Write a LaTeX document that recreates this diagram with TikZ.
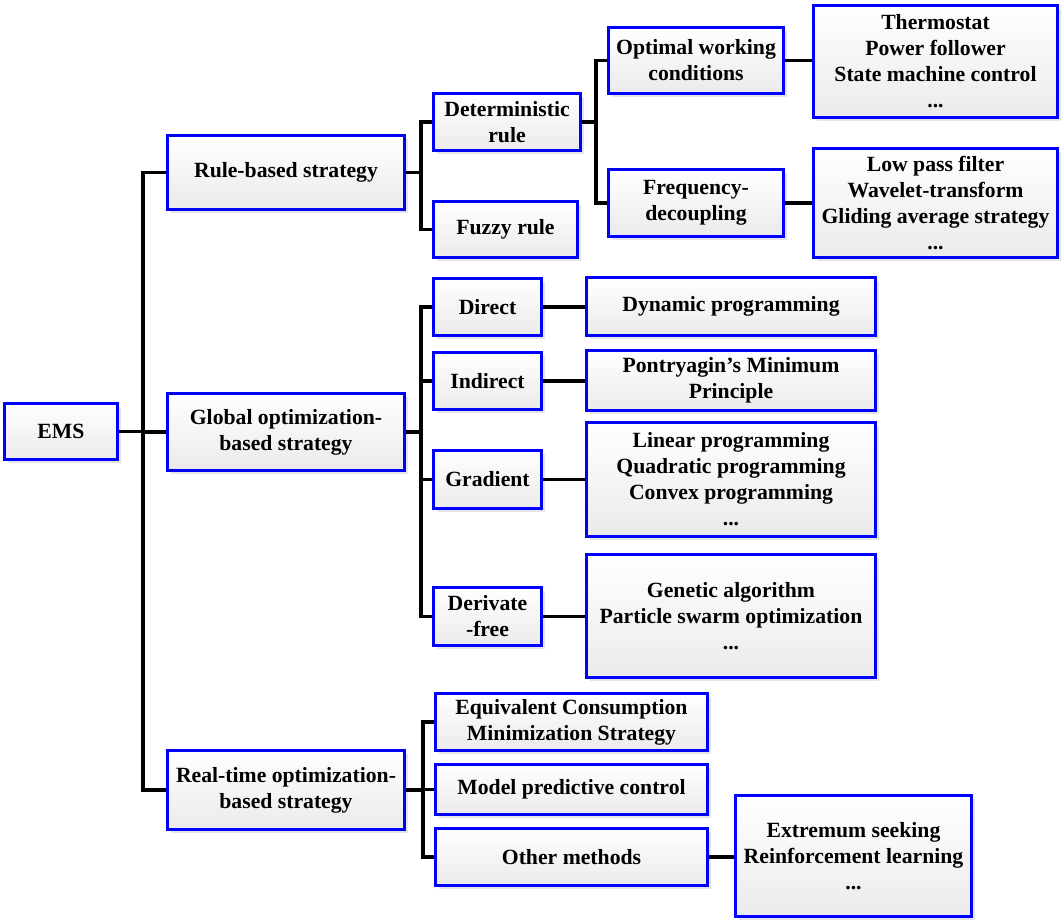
\documentclass[tikz,border=0pt]{standalone}
\usepackage{fontspec}
\setmainfont{Liberation Serif}
\usetikzlibrary{shadows}
\begin{document}
\begin{tikzpicture}[x=1pt,y=1pt,
  box/.style={draw=blue, line width=3pt, rectangle, top color=white, bottom color=black!8,
    align=center, inner sep=0pt, font=\fontsize{21.7}{26}\selectfont\bfseries,
    drop shadow={shadow xshift=3.5pt, shadow yshift=-3.5pt, fill=black!10, opacity=1}},
  link/.style={line width=3.2pt, black}]
\useasboundingbox (0,0) rectangle (1061,-920);

% root and first level
\node[box, minimum width=113pt, minimum height=56pt] (ems) at (61,-431.5) {EMS};
\node[box, minimum width=237pt, minimum height=74pt] (rule) at (286,-172.5) {Rule-based strategy};
\node[box, minimum width=237pt, minimum height=77pt] (glob) at (286,-432) {Global optimization-\\based strategy};
\node[box, minimum width=237pt, minimum height=79pt] (real) at (286,-790) {Real-time optimization-\\based strategy};

% rule-based branch
\node[box, minimum width=147pt, minimum height=57pt] (det) at (507,-122) {Deterministic\\rule};
\node[box, minimum width=144pt, minimum height=56pt] (fuzzy) at (505.5,-229.5) {Fuzzy rule};
\node[box, minimum width=175pt, minimum height=66pt] (opt) at (696,-60.5) {Optimal working\\conditions};
\node[box, minimum width=175pt, minimum height=67pt] (freq) at (696,-203) {Frequency-\\decoupling};
\node[box, minimum width=244pt, minimum height=112pt] (therm) at (935.5,-61.5) {Thermostat\\Power follower\\State machine control\\...};
\node[box, minimum width=244pt, minimum height=109pt] (lpf) at (935.5,-203) {Low pass filter\\Wavelet-transform\\Gliding average strategy\\...};

% global optimization branch
\node[box, minimum width=108pt, minimum height=57pt] (direct) at (487.5,-307) {Direct};
\node[box, minimum width=108pt, minimum height=57pt] (indirect) at (487.5,-381) {Indirect};
\node[box, minimum width=108pt, minimum height=58pt] (gradient) at (487.5,-479.5) {Gradient};
\node[box, minimum width=108pt, minimum height=58pt] (derfree) at (487.5,-616.5) {Derivate\\-free};
\node[box, minimum width=289pt, minimum height=58pt] (dyn) at (731,-306.5) {Dynamic programming};
\node[box, minimum width=289pt, minimum height=60pt] (pont) at (731,-380.5) {Pontryagin’s Minimum\\Principle};
\node[box, minimum width=289pt, minimum height=114pt] (lin) at (731,-479.5) {Linear programming\\Quadratic programming\\Convex programming\\...};
\node[box, minimum width=289pt, minimum height=123pt] (gen) at (731,-616) {Genetic algorithm\\Particle swarm optimization\\...};

% real-time branch
\node[box, minimum width=272pt, minimum height=57pt] (ecms) at (571.5,-722) {Equivalent Consumption\\Minimization Strategy};
\node[box, minimum width=272pt, minimum height=50pt] (mpc) at (571.5,-789.5) {Model predictive control};
\node[box, minimum width=272pt, minimum height=57pt] (other) at (571.5,-857) {Other methods};
\node[box, minimum width=236pt, minimum height=121pt] (ext) at (853.5,-856) {Extremum seeking\\Reinforcement learning\\...};

% bus lines
\coordinate (t0) at (143,0);
\coordinate (t1) at (421,0);
\coordinate (t2) at (596,0);
\coordinate (t3) at (421,0);
\coordinate (t4) at (423,0);

\draw[link] (ems.east) -- (ems.east -| t0);
\draw[link] (rule.west) -- (rule.west -| t0) |- (real.west);
\draw[link] (glob.west) -- (glob.west -| t0);

\draw[link] (rule.east) -- (rule.east -| t1);
\draw[link] (det.west) -- (det.west -| t1) |- (fuzzy.west);
\draw[link] (det.east) -- (det.east -| t2);
\draw[link] (opt.west) -- (opt.west -| t2) |- (freq.west);
\draw[link] (opt.east) -- (opt.east -| therm.west);
\draw[link] (freq.east) -- (freq.east -| lpf.west);

\draw[link] (glob.east) -- (glob.east -| t3);
\draw[link] (direct.west) -- (direct.west -| t3) |- (derfree.west);
\draw[link] (indirect.west) -- (indirect.west -| t3);
\draw[link] (gradient.west) -- (gradient.west -| t3);
\draw[link] (direct.east) -- (direct.east -| dyn.west);
\draw[link] (indirect.east) -- (indirect.east -| pont.west);
\draw[link] (gradient.east) -- (gradient.east -| lin.west);
\draw[link] (derfree.east) -- (derfree.east -| gen.west);

\draw[link] (real.east) -- (real.east -| t4);
\draw[link] (ecms.west) -- (ecms.west -| t4) |- (other.west);
\draw[link] (mpc.west) -- (mpc.west -| t4);
\draw[link] (other.east) -- (other.east -| ext.west);
\end{tikzpicture}
\end{document}
